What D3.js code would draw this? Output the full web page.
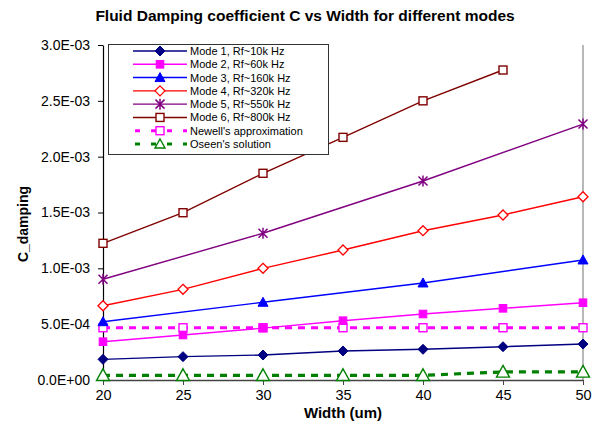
<!DOCTYPE html>
<html>
<head>
<meta charset="utf-8">
<script src="https://cdn.jsdelivr.net/npm/d3@7"></script>
<style>
  body { margin: 0; background: #fff; }
  text { font-family: "Liberation Sans", Arial, sans-serif; }
</style>
</head>
<body>
<script>
  // data
  var widths = [20, 25, 30, 35, 40, 45, 50];
  var yTicks = [0, 0.0005, 0.001, 0.0015, 0.002, 0.0025, 0.003];

  var mode1 = [1.85e-4, 2.09e-4, 2.24e-4, 2.60e-4, 2.75e-4, 2.98e-4, 3.22e-4];
  var mode2 = [3.43e-4, 4.03e-4, 4.65e-4, 5.31e-4, 5.91e-4, 6.42e-4, 6.92e-4];
  var mode3 = [5.22e-4, null, 6.96e-4, null, 8.69e-4, null, 1.075e-3];
  var mode4 = [6.65e-4, 8.12e-4, 1.0e-3, 1.164e-3, 1.337e-3, 1.478e-3, 1.641e-3];
  var mode5 = [9.02e-4, null, 1.314e-3, null, 1.782e-3, null, 2.292e-3];
  var mode6 = [1.224e-3, 1.498e-3, 1.851e-3, 2.173e-3, 2.50e-3, 2.776e-3, null];
  var newell = [4.68e-4, 4.68e-4, 4.68e-4, 4.68e-4, 4.68e-4, 4.68e-4, 4.68e-4];
  var oseen = [4.2e-5, 4.2e-5, 4.2e-5, 4.2e-5, 4.2e-5, 7.2e-5, 7.2e-5];

  var seriesNames = ["Mode 1, Rf~10k Hz", "Mode 2, Rf~60k Hz", "Mode 3, Rf~160k Hz",
    "Mode 4, Rf~320k Hz", "Mode 5, Rf~550k Hz", "Mode 6, Rf~800k Hz",
    "Newell's approximation", "Oseen's solution"];

  var series = [
    {name: seriesNames[0], values: mode1, color: "#000080", marker: "diamond", fill: true},
    {name: seriesNames[1], values: mode2, color: "#ff00ff", marker: "square", fill: true},
    {name: seriesNames[2], values: mode3, color: "#0000ff", marker: "triangle", fill: true},
    {name: seriesNames[3], values: mode4, color: "#ff0000", marker: "diamond", fill: false},
    {name: seriesNames[4], values: mode5, color: "#800080", marker: "star", fill: false},
    {name: seriesNames[5], values: mode6, color: "#800000", marker: "square", fill: false},
    {name: seriesNames[6], values: newell, color: "#ff00ff", marker: "square", fill: false, dashed: true},
    {name: seriesNames[7], values: oseen, color: "#008000", marker: "bigtriangle", fill: false, dashed: true}
  ];

  var width = 613, height = 424;
  var plotLeft = 103, plotRight = 583, plotTop = 45, plotBottom = 380;

  var svg = d3.select("body").append("svg")
    .attr("width", width)
    .attr("height", height);

  var x = d3.scaleLinear().domain([20, 50]).range([plotLeft, plotRight]);
  var y = d3.scaleLinear().domain([0, 0.003]).range([plotBottom, plotTop]);

  var fmt = function(v) {
    var s = v.toExponential(1).toUpperCase();
    return s.replace(/E([+-])(\d)$/, "E$10$2");
  };

  // title
  svg.append("text")
    .attr("x", 305).attr("y", 21)
    .attr("text-anchor", "middle")
    .attr("font-size", 15.5).attr("font-weight", "bold")
    .text("Fluid Damping coefficient C vs Width for different modes");

  // right border of plot area
  svg.append("line")
    .attr("x1", plotRight).attr("x2", plotRight).attr("y1", plotTop).attr("y2", plotBottom)
    .attr("stroke", "#a0a0a0").attr("stroke-width", 1.5);

  // axes
  var yAxis = d3.axisLeft(y).tickValues(yTicks).tickSize(5).tickSizeOuter(0).tickFormat(fmt);
  var gy = svg.append("g").attr("transform", "translate(" + plotLeft + ",0)").call(yAxis);
  gy.selectAll("text").attr("font-size", 14).attr("fill", "#000").attr("dx", -5);
  gy.selectAll("line, path").attr("stroke", "#000");

  var xAxis = d3.axisBottom(x).tickValues(widths).tickSize(5).tickSizeOuter(0);
  var gx = svg.append("g").attr("transform", "translate(0," + plotBottom + ")").call(xAxis);
  gx.selectAll("text").attr("font-size", 14.5).attr("fill", "#000").attr("dy", "0.85em");
  gx.selectAll("line, path").attr("stroke", "#444");
  gx.select(".domain").attr("stroke-width", 1.5);
  gy.select(".domain").attr("stroke-width", 1.2);

  svg.append("text")
    .attr("x", (plotLeft + plotRight) / 2).attr("y", 418)
    .attr("text-anchor", "middle")
    .attr("font-size", 15).attr("font-weight", "bold")
    .text("Width (um)");

  svg.append("text")
    .attr("transform", "translate(28,224) rotate(-90)")
    .attr("text-anchor", "middle")
    .attr("font-size", 14).attr("font-weight", "bold")
    .text("C_damping");

  function drawMarker(g, s, cx, cy) {
    var fill = s.fill ? s.color : "#fff";
    if (s.marker === "diamond") {
      var r = 5;
      g.append("path")
        .attr("d", "M" + cx + "," + (cy - r) + "L" + (cx + r) + "," + cy + "L" + cx + "," + (cy + r) + "L" + (cx - r) + "," + cy + "Z")
        .attr("fill", fill).attr("stroke", s.color).attr("stroke-width", s.fill ? 1 : 1.3);
    } else if (s.marker === "square") {
      var h = s.fill ? 3.8 : 4;
      g.append("rect")
        .attr("x", cx - h).attr("y", cy - h).attr("width", 2 * h).attr("height", 2 * h)
        .attr("fill", fill).attr("stroke", s.color).attr("stroke-width", s.fill ? 1 : 1.4);
    } else if (s.marker === "triangle" || s.marker === "bigtriangle") {
      var t = s.marker === "bigtriangle" ? 6.5 : 5;
      g.append("path")
        .attr("d", "M" + cx + "," + (cy - t) + "L" + (cx + t) + "," + (cy + t * 0.8) + "L" + (cx - t) + "," + (cy + t * 0.8) + "Z")
        .attr("fill", fill).attr("stroke", s.color).attr("stroke-width", s.fill ? 1 : 1.4);
    } else if (s.marker === "star") {
      var a = 4.5;
      var d = "M" + (cx - a) + "," + (cy - a) + "L" + (cx + a) + "," + (cy + a) +
        "M" + (cx - a) + "," + (cy + a) + "L" + (cx + a) + "," + (cy - a) +
        "M" + cx + "," + (cy - a - 1) + "L" + cx + "," + (cy + a + 1);
      g.append("path").attr("d", d).attr("fill", "none")
        .attr("stroke", s.color).attr("stroke-width", 1.5);
    }
  }

  var line = d3.line()
    .x(function(d) { return x(d.w); })
    .y(function(d) { return y(d.v); });

  var plot = svg.append("g");
  series.slice().reverse().forEach(function(s) {
    var pts = widths.map(function(w, i) { return {w: w, v: s.values[i]}; })
      .filter(function(d) { return d.v != null; });
    plot.append("path")
      .attr("d", line(pts))
      .attr("fill", "none")
      .attr("stroke", s.color)
      .attr("stroke-width", s.dashed ? 3.2 : 1.4)
      .attr("stroke-dasharray", s.dashed ? "7,6" : null);
    var mg = plot.append("g");
    pts.forEach(function(d) { drawMarker(mg, s, x(d.w), y(d.v)); });
  });

  // legend
  var lg = svg.append("g");
  lg.append("rect")
    .attr("x", 108.5).attr("y", 44.5).attr("width", 220).attr("height", 110)
    .attr("fill", "#fff").attr("stroke", "#333").attr("stroke-width", 1);
  var rowY = d3.scaleLinear().domain([0, 7]).range([51, 144]);
  series.forEach(function(s, i) {
    var ry = rowY(i);
    lg.append("line")
      .attr("x1", s.dashed ? 135 : 133).attr("x2", 187)
      .attr("y1", ry).attr("y2", ry)
      .attr("stroke", s.color)
      .attr("stroke-width", s.dashed ? 3 : 1.4)
      .attr("stroke-dasharray", s.dashed ? "5,11" : null);
    var ms = Object.assign({}, s);
    if (ms.marker === "bigtriangle") ms.marker = "triangle";
    drawMarker(lg, ms, 160, ry);
    lg.append("text")
      .attr("x", 190).attr("y", ry + 4)
      .attr("font-size", 11)
      .text(s.name);
  });
</script>
</body>
</html>
